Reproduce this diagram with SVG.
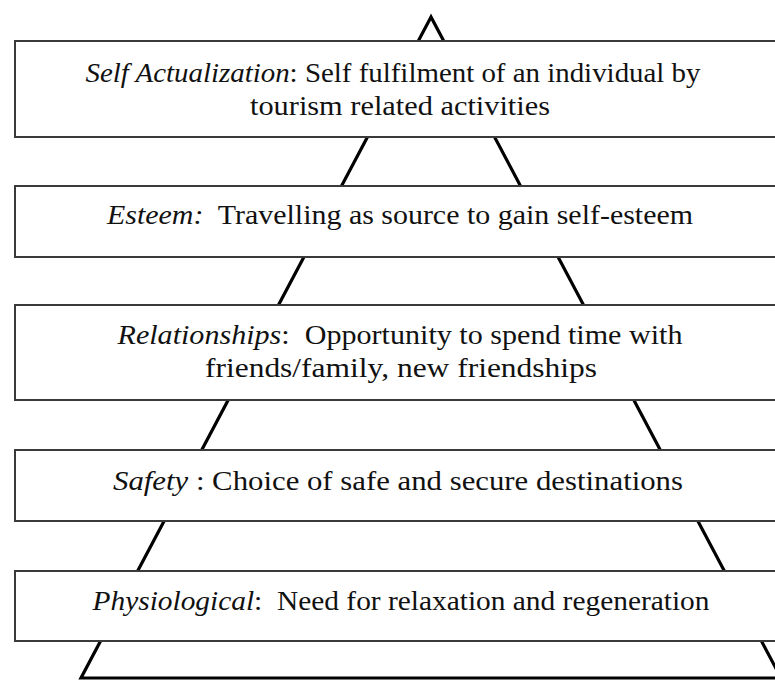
<svg xmlns="http://www.w3.org/2000/svg" width="775" height="681" viewBox="0 0 775 681">
  <style>
    .tier { fill: #ffffff; stroke: #3a3a3a; stroke-width: 2; }
    .label { font-family: 'Liberation Serif', serif; font-size: 28px; fill: #111111; text-anchor: middle; }
    .term { font-style: italic; }
    .pyramid { fill: none; stroke: #000000; stroke-width: 3.2; stroke-linejoin: miter; }
  </style>
  <rect x="0" y="0" width="775" height="681" fill="#ffffff"/>

  <!-- pyramid outline behind the tiers -->
  <g id="connectors">
    <polygon class="pyramid" points="431,17 81,678 781,678"/>
  </g>

  <g id="self-actualization">
    <rect class="tier" x="15" y="41" width="775" height="96"/>
    <text class="label" x="393" y="82" xml:space="preserve" textLength="615" lengthAdjust="spacingAndGlyphs"><tspan class="term">Self Actualization</tspan>: Self fulfilment of an individual by</text>
    <text class="label" x="400" y="115" textLength="300" lengthAdjust="spacingAndGlyphs">tourism related activities</text>
  </g>

  <g id="esteem">
    <rect class="tier" x="15" y="186" width="775" height="71"/>
    <text class="label" x="400" y="224" xml:space="preserve" textLength="586" lengthAdjust="spacingAndGlyphs"><tspan class="term">Esteem:</tspan>  Travelling as source to gain self-esteem</text>
  </g>

  <g id="relationships">
    <rect class="tier" x="15" y="305" width="775" height="95"/>
    <text class="label" x="400" y="344" xml:space="preserve" textLength="565" lengthAdjust="spacingAndGlyphs"><tspan class="term">Relationships</tspan>:  Opportunity to spend time with</text>
    <text class="label" x="401" y="377" textLength="392" lengthAdjust="spacingAndGlyphs">friends/family, new friendships</text>
  </g>

  <g id="safety">
    <rect class="tier" x="15" y="450" width="775" height="71"/>
    <text class="label" x="398" y="490" xml:space="preserve" textLength="570" lengthAdjust="spacingAndGlyphs"><tspan class="term">Safety</tspan> : Choice of safe and secure destinations</text>
  </g>

  <g id="physiological">
    <rect class="tier" x="15" y="571" width="775" height="70"/>
    <text class="label" x="401" y="610" xml:space="preserve" textLength="617" lengthAdjust="spacingAndGlyphs"><tspan class="term">Physiological</tspan>:  Need for relaxation and regeneration</text>
  </g>
</svg>
